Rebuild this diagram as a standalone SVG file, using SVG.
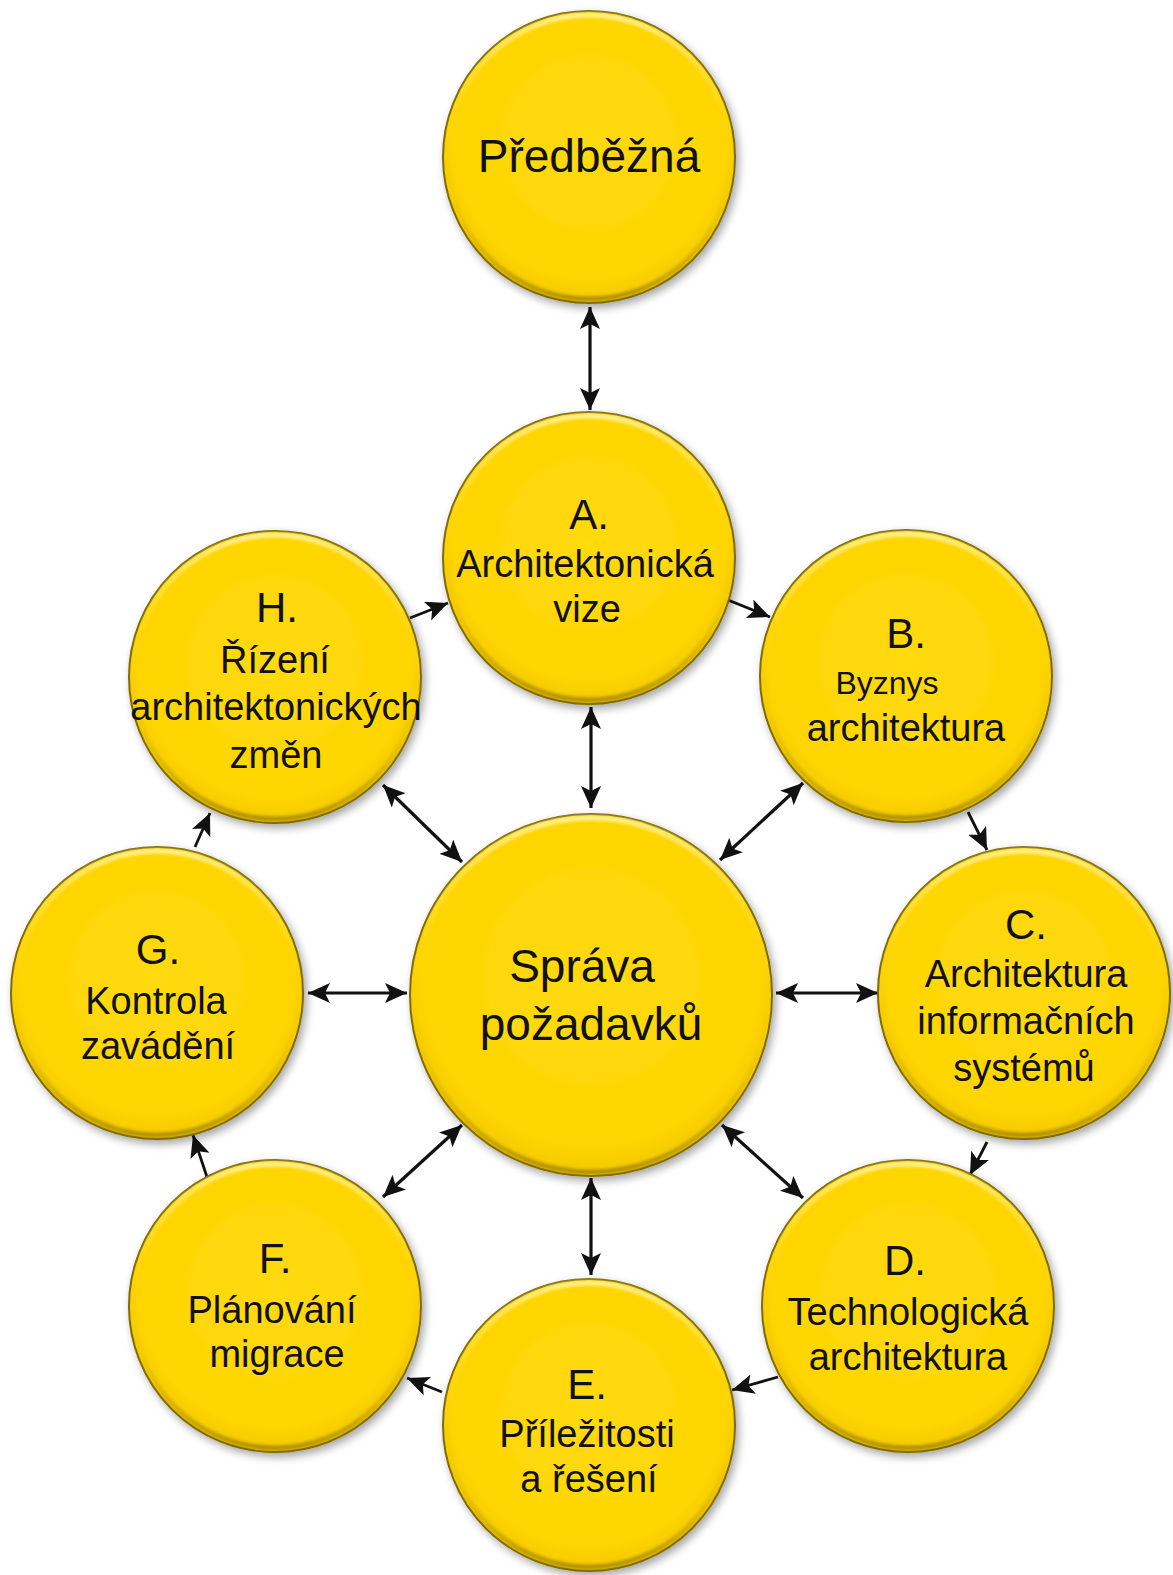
<svg xmlns="http://www.w3.org/2000/svg" xmlns:xlink="http://www.w3.org/1999/xlink" width="1173" height="1575" viewBox="0 0 1173 1575">
<style>
  .t { font-family: "Liberation Sans", Arial, sans-serif; fill: #111; text-anchor: middle; }
  .b { font-size: 38px; }
  .l { font-size: 42px; }
  .big { font-size: 46px; }
  .c2 { stroke: #111; stroke-width: 3.2; fill: none; marker-start: url(#ah); marker-end: url(#ah); }
  .c1 { stroke: #111; stroke-width: 2.8; fill: none; marker-end: url(#ah2); }
</style>
<defs>
  <radialGradient id="fill" cx="50%" cy="45%" r="55%">
    <stop offset="0" stop-color="#FFDA12"/>
    <stop offset="0.85" stop-color="#FED500"/>
    <stop offset="1" stop-color="#F2C800"/>
  </radialGradient>
  <linearGradient id="bevel" x1="0" y1="0" x2="0" y2="1">
    <stop offset="0" stop-color="#FFF29A" stop-opacity="0.95"/>
    <stop offset="0.35" stop-color="#FFE040" stop-opacity="0.2"/>
    <stop offset="0.65" stop-color="#E0B800" stop-opacity="0.2"/>
    <stop offset="1" stop-color="#A88A00" stop-opacity="0.9"/>
  </linearGradient>
  <filter id="sh" x="-20%" y="-20%" width="140%" height="140%">
    <feGaussianBlur in="SourceAlpha" stdDeviation="4"/>
    <feOffset dx="3" dy="4" result="o"/>
    <feFlood flood-color="#000" flood-opacity="0.35"/>
    <feComposite in2="o" operator="in"/>
    <feMerge><feMergeNode/><feMergeNode in="SourceGraphic"/></feMerge>
  </filter>
  <filter id="soft" x="-10%" y="-10%" width="120%" height="120%">
    <feGaussianBlur stdDeviation="1.5"/>
  </filter>
  <g id="bub">
    <circle r="146" fill="url(#fill)" stroke="#7E6800" stroke-width="2" filter="url(#sh)"/>
    <circle r="142" fill="none" stroke="url(#bevel)" stroke-width="5" filter="url(#soft)"/>
  </g>
  <g id="bubBig">
    <circle r="181" fill="url(#fill)" stroke="#7E6800" stroke-width="2" filter="url(#sh)"/>
    <circle r="177" fill="none" stroke="url(#bevel)" stroke-width="5" filter="url(#soft)"/>
  </g>
  <marker id="ah" markerUnits="userSpaceOnUse" markerWidth="24" markerHeight="22" refX="22" refY="10" orient="auto-start-reverse">
    <path d="M0,0 L22,10 L0,20 L5,10 z" fill="#111"/>
  </marker>
  <marker id="ah2" markerUnits="userSpaceOnUse" markerWidth="24" markerHeight="22" refX="22" refY="10" orient="auto">
    <path d="M0,0 L22,10 L0,20 L5,10 z" fill="#111"/>
  </marker>
</defs>
<rect width="1173" height="1575" fill="#fff"/>

<g id="connectors">
  <line class="c2" x1="590" y1="307" x2="590" y2="410"/>
  <line class="c2" x1="591" y1="707" x2="591" y2="808"/>
  <line class="c2" x1="591" y1="1178" x2="591" y2="1275"/>
  <line class="c2" x1="308" y1="993" x2="407" y2="993"/>
  <line class="c2" x1="776" y1="993" x2="878" y2="993"/>
  <line class="c2" x1="383" y1="785" x2="462" y2="862"/>
  <line class="c2" x1="803" y1="783" x2="720" y2="860"/>
  <line class="c2" x1="383" y1="1197" x2="462" y2="1125"/>
  <line class="c2" x1="803" y1="1198" x2="722" y2="1125"/>
  <line class="c1" x1="410" y1="618" x2="448" y2="603"/>
  <line class="c1" x1="728" y1="600" x2="770" y2="617"/>
  <line class="c1" x1="968" y1="812" x2="987" y2="850"/>
  <line class="c1" x1="987" y1="1142" x2="970" y2="1175"/>
  <line class="c1" x1="778" y1="1377" x2="732" y2="1390"/>
  <line class="c1" x1="442" y1="1392" x2="407" y2="1378"/>
  <line class="c1" x1="207" y1="1177" x2="193" y2="1135"/>
  <line class="c1" x1="195" y1="847" x2="210" y2="813"/>
</g>

<g id="node-predbezna">
  <use href="#bub" x="589" y="157"/>
  <text class="t big" x="589" y="172">Předběžná</text>
</g>

<g id="node-A">
  <use href="#bub" x="589" y="558"/>
  <text class="t"><tspan class="l" x="589" y="529">A.</tspan><tspan class="b" x="585" y="577">Architektonická</tspan><tspan class="b" x="587" y="622">vize</tspan></text>
</g>

<g id="node-B">
  <use href="#bub" x="906" y="676"/>
  <text class="t"><tspan class="l" x="906" y="648">B.</tspan><tspan x="887" y="694" style="font-size:32px">Byznys</tspan><tspan class="b" x="906" y="741">architektura</tspan></text>
</g>

<g id="node-C">
  <use href="#bub" x="1024" y="993"/>
  <text class="t"><tspan class="l" x="1026" y="939">C.</tspan><tspan class="b" x="1026" y="987">Architektura</tspan><tspan class="b" x="1026" y="1034">informačních</tspan><tspan class="b" x="1024" y="1081">systémů</tspan></text>
</g>

<g id="node-D">
  <use href="#bub" x="908" y="1306"/>
  <text class="t"><tspan class="l" x="905" y="1275">D.</tspan><tspan class="b" x="908" y="1325">Technologická</tspan><tspan class="b" x="908" y="1370">architektura</tspan></text>
</g>

<g id="node-E">
  <use href="#bub" x="589" y="1425"/>
  <text class="t"><tspan class="l" x="587" y="1399">E.</tspan><tspan class="b" x="587" y="1447">Příležitosti</tspan><tspan class="b" x="589" y="1492">a řešení</tspan></text>
</g>

<g id="node-F">
  <use href="#bub" x="275" y="1306"/>
  <text class="t"><tspan class="l" x="275" y="1273">F.</tspan><tspan class="b" x="272" y="1323">Plánování</tspan><tspan class="b" x="277" y="1367">migrace</tspan></text>
</g>

<g id="node-G">
  <use href="#bub" x="157" y="993"/>
  <text class="t"><tspan class="l" x="158" y="964">G.</tspan><tspan class="b" x="156" y="1014">Kontrola</tspan><tspan class="b" x="158" y="1059">zavádění</tspan></text>
</g>

<g id="node-H">
  <use href="#bub" x="275" y="677"/>
  <text class="t"><tspan class="l" x="277" y="622">H.</tspan><tspan class="b" x="275" y="673">Řízení</tspan><tspan class="b" x="276" y="720">architektonických</tspan><tspan class="b" x="276" y="768">změn</tspan></text>
</g>

<g id="node-center">
  <use href="#bubBig" x="591" y="995"/>
  <text class="t big"><tspan x="582" y="982">Správa</tspan><tspan x="591" y="1040">požadavků</tspan></text>
</g>
</svg>
